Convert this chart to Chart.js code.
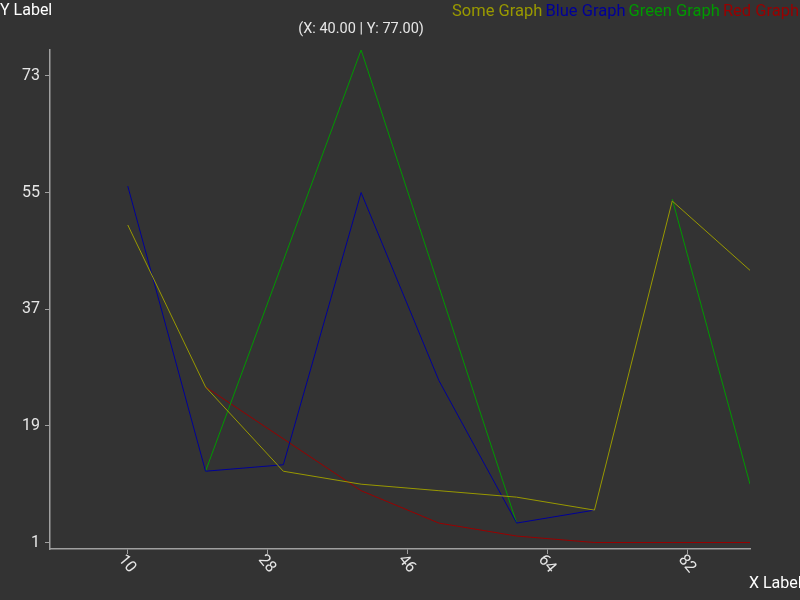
<!DOCTYPE html>
<html lang="en">
<head>
    <meta charset="UTF-8">
    <title>Graph</title>
    <script src="https://cdn.jsdelivr.net/npm/chart.js"></script>
    <style>
        html, body { margin: 0; padding: 0; background: #333333; }
        .chart-container { position: relative; width: 800px; height: 600px; }
    </style>
</head>
<body>
    <div class="chart-container">
        <canvas id="graphChart" width="800" height="600"></canvas>
    </div>

    <script>
        // Values
        const xValues = [10, 20, 30, 40, 50, 60, 70, 80, 90];
        const someGraph = [50, 25, 12, 10, 9, 8, 6, 53.7, 43];
        const blueGraph = [56, 12, 13, 55, 26, 4, 6, null, null];
        const redGraph = [null, 25, 17, 9, 4, 2, 1, 1, 1];
        // green has a break between 60 and 80
        const greenX = [20, 40, 60, null, 80, 90];
        const greenGraph = [12, 77, 4, null, 54, 10];

        const xTicks = [10, 28, 46, 64, 82];
        const yTicks = [1, 19, 37, 55, 73];

        const seriesNames = ['Some Graph', 'Blue Graph', 'Green Graph', 'Red Graph'];
        const seriesColors = ['#999900', '#000099', '#009900', '#990000'];

        const axisColor = '#a0a0a0';
        const textColor = '#e6e6e6';
        const font = 'Roboto';

        function toPoints(xs, ys) {
            return xs.map((x, i) => ({ x: x, y: ys[i] }));
        }

        // Extra text: rotated x ticks, axis names, legend and the peak label
        const overlayPlugin = {
            id: 'overlay',
            afterDraw(chart) {
                const ctx = chart.ctx;
                const xs = chart.scales.x;
                const ys = chart.scales.y;
                const area = chart.chartArea;
                ctx.save();

                // x tick labels, turned clockwise
                ctx.fillStyle = textColor;
                ctx.font = '16px ' + font;
                ctx.textAlign = 'center';
                ctx.textBaseline = 'middle';
                xTicks.forEach(v => {
                    ctx.save();
                    ctx.translate(xs.getPixelForValue(v) - 1, area.bottom + 15);
                    ctx.rotate(50 * Math.PI / 180);
                    ctx.fillText(String(v), 0, 0);
                    ctx.restore();
                });

                // axis names
                ctx.fillStyle = '#ffffff';
                ctx.textAlign = 'left';
                ctx.fillText('Y Label', 0, 11);
                ctx.fillText('X Label', area.right - 1, 584);

                // legend, text only
                ctx.font = '16.5px ' + font;
                let lx = 452;
                const gap = ctx.measureText(' ').width - 1;
                chart.data.datasets.forEach(ds => {
                    ctx.fillStyle = ds.borderColor;
                    ctx.fillText(ds.label, lx, 12);
                    lx += ctx.measureText(ds.label).width + gap;
                });

                // label above the highest point
                let best = null;
                chart.data.datasets.forEach(ds => {
                    ds.data.forEach(p => {
                        if (p.y !== null && (!best || p.y > best.y)) best = p;
                    });
                });
                if (best) {
                    ctx.fillStyle = textColor;
                    ctx.font = '14.5px ' + font;
                    ctx.textAlign = 'center';
                    ctx.fillText('(X: ' + best.x.toFixed(2) + ' | Y: ' + best.y.toFixed(2) + ')',
                        xs.getPixelForValue(best.x), ys.getPixelForValue(best.y) - 21);
                }
                ctx.restore();
            }
        };

        const seriesData = [
            toPoints(xValues, someGraph),
            toPoints(xValues, blueGraph),
            toPoints(greenX, greenGraph),
            toPoints(xValues, redGraph)
        ];

        const ctx = document.getElementById('graphChart').getContext('2d');
        const graphChart = new Chart(ctx, {
            type: 'line',
            data: {
                datasets: seriesData.map((pts, i) => ({
                    label: seriesNames[i],
                    data: pts,
                    borderColor: seriesColors[i],
                    backgroundColor: seriesColors[i],
                    borderWidth: 1,
                    pointRadius: 0,
                    tension: 0,
                    fill: false,
                    spanGaps: false,
                }))
            },
            options: {
                responsive: false,
                animation: false,
                layout: { padding: { left: 0, top: 50, right: 50, bottom: 0 } },
                plugins: {
                    legend: { display: false },
                    title: { display: false },
                    tooltip: { enabled: false },
                },
                scales: {
                    x: {
                        type: 'linear',
                        min: 0,
                        max: 90,
                        afterBuildTicks: s => { s.ticks = xTicks.map(v => ({ value: v })); },
                        afterFit: s => { s.height = 51; },
                        ticks: { display: false },
                        grid: { drawOnChartArea: false, color: axisColor, tickLength: 5 },
                        border: { color: axisColor, width: 1.5 },
                    },
                    y: {
                        type: 'linear',
                        min: 0,
                        max: 77,
                        afterBuildTicks: s => { s.ticks = yTicks.map(v => ({ value: v })); },
                        afterFit: s => { s.width = 50; },
                        ticks: { color: textColor, font: { family: font, size: 16 }, padding: 5 },
                        grid: { drawOnChartArea: false, color: axisColor, tickLength: 5 },
                        border: { color: axisColor, width: 1.5 },
                    }
                }
            },
            plugins: [overlayPlugin]
        });
    </script>
</body>
</html>
